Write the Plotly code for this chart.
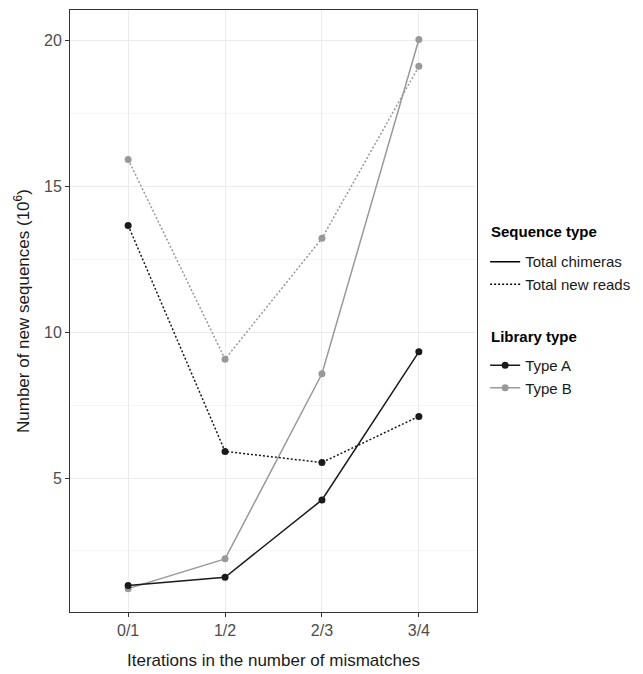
import plotly.graph_objects as go

categories = ["0/1", "1/2", "2/3", "3/4"]
chimeras_a = [1.32, 1.60, 4.25, 9.32]
chimeras_b = [1.21, 2.23, 8.57, 20.02]
newreads_a = [13.65, 5.91, 5.53, 7.11]
newreads_b = [15.91, 9.07, 13.21, 19.10]
y_ticks = [5, 10, 15, 20]

col_a = "#1a1a1a"
col_b = "#999999"
font = "Liberation Sans, Arial, sans-serif"
dotted = "2px,2px"

fig = go.Figure()

series = [
    (chimeras_b, col_b, "solid"),
    (newreads_b, col_b, dotted),
    (chimeras_a, col_a, "solid"),
    (newreads_a, col_a, dotted),
]
for vals, col, dash in series:
    fig.add_trace(go.Scatter(
        x=categories, y=vals, mode="lines+markers",
        line=dict(color=col, width=1.5, dash=dash),
        marker=dict(color=col, size=7),
        showlegend=False, hoverinfo="skip"))

# legend entries
fig.add_trace(go.Scatter(x=[None], y=[None], mode="lines", name="Total chimeras",
                         line=dict(color="black", width=1.5), legend="legend"))
fig.add_trace(go.Scatter(x=[None], y=[None], mode="lines", name="Total new reads",
                         line=dict(color="black", width=1.5, dash=dotted), legend="legend"))
fig.add_trace(go.Scatter(x=[None], y=[None], mode="lines+markers", name="Type A",
                         line=dict(color=col_a, width=1.5), marker=dict(color=col_a, size=7),
                         legend="legend2"))
fig.add_trace(go.Scatter(x=[None], y=[None], mode="lines+markers", name="Type B",
                         line=dict(color=col_b, width=1.5), marker=dict(color=col_b, size=7),
                         legend="legend2"))

legend_common = dict(
    xanchor="left", yanchor="top", x=1.02,
    bgcolor="rgba(0,0,0,0)", font=dict(family=font, size=15, color="#1a1a1a"),
    tracegroupgap=0, itemwidth=30,
)

fig.update_layout(
    width=635, height=666,
    margin=dict(l=62, r=166, t=2, b=62, autoexpand=False),
    plot_bgcolor="white", paper_bgcolor="white",
    font=dict(family=font),
    legend=dict(**legend_common, y=0.609),
    legend2=dict(**legend_common, y=0.437),
    xaxis=dict(
        type="category", categoryorder="array", categoryarray=categories,
        range=[-0.6, 3.6], automargin=False,
        showgrid=True, gridcolor="#ebebeb", gridwidth=1,
        showline=True, mirror=True, linecolor="#333333", linewidth=1,
        ticks="outside", ticklen=4, tickcolor="#333333",
        tickfont=dict(family=font, size=16, color="#4d4d4d"),
        zeroline=False,
    ),
    yaxis=dict(
        range=[0.41, 21.03], automargin=False,
        tickvals=y_ticks, ticktext=[str(v) for v in y_ticks],
        showgrid=True, gridcolor="#ebebeb", gridwidth=1,
        minor=dict(tickvals=[2.5, 7.5, 12.5, 17.5], showgrid=True, gridcolor="#f4f4f4", gridwidth=1),
        showline=True, mirror=True, linecolor="#333333", linewidth=1,
        ticks="outside", ticklen=4, tickcolor="#333333",
        tickfont=dict(family=font, size=16, color="#4d4d4d"),
        zeroline=False,
    ),
    annotations=[
        dict(text="Iterations in the number of mismatches", xref="paper", yref="paper",
             x=0.5, y=-0.08, yanchor="middle", xanchor="center", showarrow=False,
             font=dict(family=font, size=17, color="#1a1a1a")),
        dict(text="Number of new sequences (10<sup>6</sup>)", xref="paper", yref="paper",
             x=-0.118, y=0.5, xanchor="center", yanchor="middle", textangle=-90, showarrow=False,
             font=dict(family=font, size=17, color="#1a1a1a")),
        dict(text="<b>Sequence type</b>", xref="paper", yref="paper",
             x=1.03, y=0.632, xanchor="left", yanchor="middle", showarrow=False,
             font=dict(family=font, size=15, color="black")),
        dict(text="<b>Library type</b>", xref="paper", yref="paper",
             x=1.03, y=0.458, xanchor="left", yanchor="middle", showarrow=False,
             font=dict(family=font, size=15, color="black")),
    ],
)

fig.write_html("out.html")
